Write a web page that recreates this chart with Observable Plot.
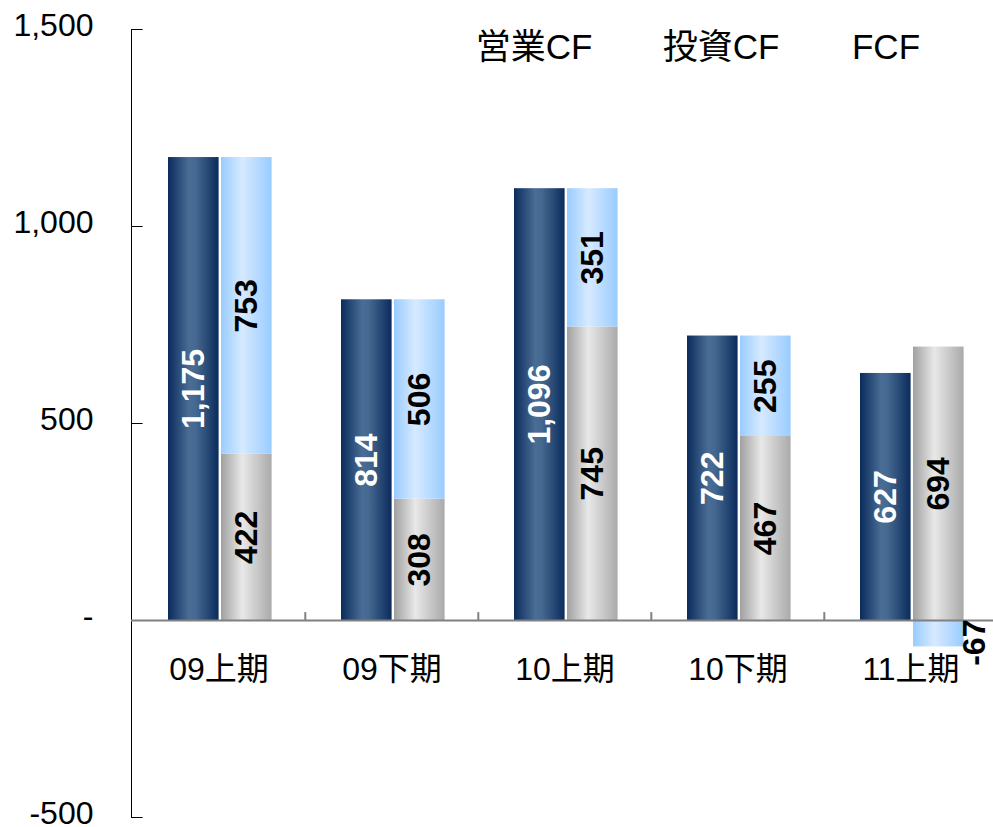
<!DOCTYPE html>
<html>
<head>
<meta charset="utf-8">
<script src="https://cdn.jsdelivr.net/npm/d3@7"></script>
<script src="https://cdn.jsdelivr.net/npm/@observablehq/plot@0.6"></script>
<style>
  html, body { margin: 0; padding: 0; background: #fff; overflow: hidden; }
</style>
</head>
<body>
<div id="chart"></div>
<script>
// ---- data ----
const categories = ["09上期", "09下期", "10上期", "10下期", "11上期"];
const operatingCF = [1175, 814, 1096, 722, 627];
const investingCF = [753, 506, 351, 255, -67];   // as displayed on the chart
const freeCF = [422, 308, 745, 467, 694];
const yTicks = [-500, 0, 500, 1000, 1500];
const yTickLabels = ["-500", "-", "500", "1,000", "1,500"];
const legendLabels = ["営業CF", "投資CF", "FCF"];
const legendCategories = ["10上期", "10下期", "11上期"];
const legendOffsets = [-31, -17, -25];

const rows = categories.map((c, i) => ({
  cat: c, op: operatingCF[i], inv: investingCF[i], fcf: freeCF[i]
}));
const invBase = d => (d.inv >= 0 ? d.fcf : 0);

const xRange = [131, 998];
const band = (xRange[1] - xRange[0]) / categories.length;
const navyInset = {insetLeft: 36, insetRight: band - 87};
const stackInset = {insetLeft: 89, insetRight: band - 140};
const navyDx = 61.5 - band / 2;
const stackDx = 114.5 - band / 2;

const font = "'Liberation Sans', Arial, 'Noto Sans CJK JP', sans-serif";
const labelFont = {fontSize: 32, fontWeight: "bold", rotate: -90};

const chart = Plot.plot({
  width: 993,
  height: 827,
  marginLeft: 131,
  marginRight: 0,
  marginTop: 29,
  marginBottom: 10,
  style: {fontFamily: font, fontSize: "32px", color: "#000", background: "#fff"},
  x: {type: "band", domain: categories, range: xRange, padding: 0, axis: null},
  y: {domain: [-500, 1500], range: [817, 29]},
  marks: [
    Plot.frame({anchor: "left", stroke: "#000", strokeWidth: 1}),
    Plot.axisY({
      ticks: yTicks,
      tickFormat: v => yTickLabels[yTicks.indexOf(v)],
      tickSize: 0,
      tickPadding: 38,
      fontSize: 32,
      dy: -4,
      fill: "#000"
    }),
    Plot.tickY(yTicks, {y: d => d, x: () => categories[0], insetLeft: 0, insetRight: band - 11, stroke: "#000", strokeWidth: 1}),
    // operating CF bars
    Plot.barY(rows, {x: "cat", y1: 0, y2: "op", fill: "url(#gNavy)", ...navyInset}),
    // FCF bars
    Plot.barY(rows, {x: "cat", y1: 0, y2: "fcf", fill: "url(#gGray)", ...stackInset}),
    // investing CF bars
    Plot.barY(rows, {x: "cat", y1: invBase, y2: d => invBase(d) + d.inv, fill: "url(#gBlue)", ...stackInset}),
    // zero line
    Plot.ruleY([0], {stroke: "#808080", strokeWidth: 2}),
    Plot.ruleX(categories.slice(1), {x: d => d, y1: 0, y2: 20, dx: -band / 2, stroke: "#808080", strokeWidth: 2}),
    // value labels
    Plot.text(rows, {x: "cat", y: d => d.op / 2, text: d => d3.format(",")(d.op), fill: "#fff", dx: navyDx, ...labelFont}),
    Plot.text(rows, {x: "cat", y: d => d.fcf / 2, text: d => d3.format(",")(d.fcf), fill: "#000", dx: stackDx, ...labelFont}),
    Plot.text(rows.filter(d => d.inv >= 0), {x: "cat", y: d => d.fcf + d.inv / 2, text: d => d3.format(",")(d.inv), fill: "#000", dx: stackDx, ...labelFont}),
    Plot.text(rows.filter(d => d.inv < 0), {x: "cat", y: d => d.inv / 2, text: d => "-" + Math.abs(d.inv), fill: "#000", dx: 64, dy: 9, ...labelFont}),
    // category labels
    Plot.text(categories, {x: d => d, y: 0, dy: 49, text: d => d, fontSize: 32, fill: "#000"}),
    // legend texts
    ...legendLabels.map((t, i) => Plot.text([t], {x: () => legendCategories[i], frameAnchor: "top", dy: 5, dx: legendOffsets[i], text: d => d, fontSize: 35, fill: "#000"}))
  ]
});

// gradients
const defs = d3.select(chart).insert("defs", ":first-child");
function grad(id, stops) {
  const g = defs.append("linearGradient").attr("id", id)
    .attr("x1", 0).attr("x2", 1).attr("y1", 0).attr("y2", 0);
  stops.forEach(([o, c]) => g.append("stop").attr("offset", o).attr("stop-color", c));
}
grad("gNavy", [[0, "#0b2c5c"], [0.42, "#4a6d95"], [0.55, "#456890"], [1, "#0b2c5c"]]);
grad("gBlue", [[0, "#99ccff"], [0.42, "#d6eaff"], [1, "#99ccff"]]);
grad("gGray", [[0, "#a0a0a0"], [0.42, "#e8e8e8"], [1, "#aaaaaa"]]);

document.getElementById("chart").appendChild(chart);
</script>
</body>
</html>
